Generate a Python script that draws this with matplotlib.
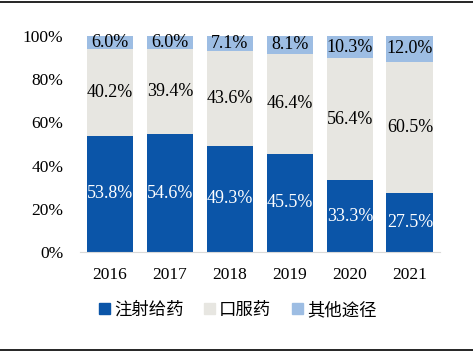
import numpy as np
import matplotlib
matplotlib.use("Agg")
import matplotlib.pyplot as plt
from matplotlib.lines import Line2D
from matplotlib.patches import Patch

# ------------------------------
# 数据
# ------------------------------
years = ["2016", "2017", "2018", "2019", "2020", "2021"]
injection = [53.8, 54.6, 49.3, 45.5, 33.3, 27.5]
oral = [40.2, 39.4, 43.6, 46.4, 56.4, 60.5]
other = [6.0, 6.0, 7.1, 8.1, 10.3, 12.0]
series_names = ["注射给药", "口服药", "其他途径"]

colors = ["#0b55a8", "#e7e6e1", "#9dbde3"]
text_colors = ["white", "black", "black"]

plt.rcParams['font.family'] = ['Liberation Serif', 'Noto Sans CJK SC']

fig = plt.figure(figsize=(4.73, 3.53), dpi=100)
ax = fig.add_axes([0.169, 0.286, 0.761, 0.612])

x = np.arange(len(years))
bottom = np.zeros(len(years))
for vals, c, tc in zip([injection, oral, other], colors, text_colors):
    vals = np.array(vals)
    ax.bar(x, vals, width=0.78, bottom=bottom, color=c)
    for xi, b, v in zip(x, bottom, vals):
        ax.text(xi, b + v / 2, "%.1f%%" % v, ha="center", va="center",
                color=tc, fontsize=13)
    bottom += vals

ax.set_xlim(-0.5, 5.5)
ax.set_ylim(0, 100)
ax.set_yticks([0, 20, 40, 60, 80, 100])
ax.set_yticklabels(["%d%%" % v for v in [0, 20, 40, 60, 80, 100]])
ax.set_xticks(x)
ax.set_xticklabels(years)
ax.tick_params(axis="both", length=0, labelsize=12.5)
ax.tick_params(axis="y", pad=12)
ax.tick_params(axis="x", pad=11)
for s in ["top", "right", "left"]:
    ax.spines[s].set_visible(False)
ax.spines["bottom"].set_color("#d9d9d9")

handles = [Patch(color=c) for c in colors]
fig.legend(handles, series_names, loc="center", bbox_to_anchor=(0.503, 0.122),
           ncol=3, frameon=False, handlelength=0.6, handleheight=0.6,
           handletextpad=0.25, columnspacing=1.2,
           prop={'family': ['Noto Sans CJK SC'], 'size': 12.5})

# 上下边框线
fig.add_artist(Line2D([0, 1], [0.994, 0.994], color="black", lw=1.2))
fig.add_artist(Line2D([0, 1], [0.008, 0.008], color="black", lw=1.2))

plt.savefig("out.png", dpi=100)
